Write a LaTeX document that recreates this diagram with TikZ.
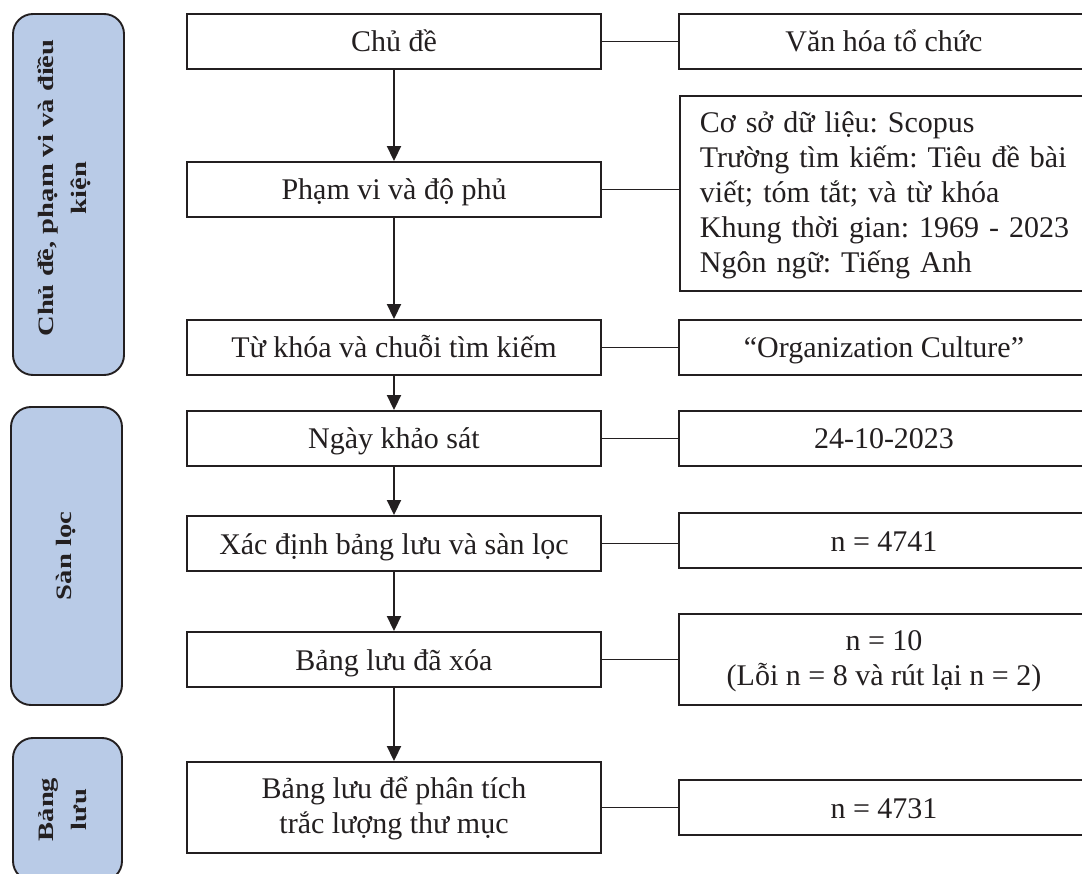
\documentclass[tikz,border=0pt]{standalone}
\usepackage{fontspec}
\setmainfont{Liberation Serif}
\frenchspacing
\usetikzlibrary{arrows.meta}
\definecolor{panelblue}{RGB}{185,203,231}
\definecolor{ink}{RGB}{35,31,32}
\newcommand{\topstrut}{\rule{0pt}{24pt}}
\newcommand{\botstrut}{\rule[-3pt]{0pt}{3pt}}
\begin{document}
\begin{tikzpicture}[x=1pt,y=-1pt,
  box/.style={draw=ink, line width=1.9pt, minimum width=414pt, minimum height=55pt,
    inner sep=0pt, align=center, font=\fontsize{30}{35}\selectfont, text=ink,
    text height=24pt, text depth=3pt},
  multi/.style={text height={}, text depth={}},
  rbox/.style={box, minimum width=410pt},
  panel/.style={draw=ink, line width=1.9pt, fill=panelblue, rounded corners=20pt, inner sep=0pt},
  ptext/.style={rotate=90, text=ink, inner sep=0pt, font=\fontsize{22}{33}\selectfont\bfseries},
  flow/.style={draw=ink, line width=1.9pt, -{Triangle[width=14pt,length=15pt]}},
  link/.style={draw=ink, line width=1.9pt}
]
\useasboundingbox (0,0) rectangle (1082,874);
\clip (0,0) rectangle (1082,874);

% left panels
\node[panel, minimum width=111pt, minimum height=361pt] (p1) at (68.5,194.5) {};
\node[ptext] (p1t) at (63,188) {\scalebox{1.3}[1]{\begin{tabular}{@{}c@{}}Chủ đề, phạm vi và điều\\ kiện\end{tabular}}};
\node[panel, minimum width=111pt, minimum height=298pt] (p2) at (66.5,556) {};
\node[ptext] (p2t) at (66.5,556) {\scalebox{1.3}[1]{Sàn lọc}};
\node[panel, minimum width=109pt, minimum height=143pt] (p3) at (67.5,809.5) {};
\node[ptext] (p3t) at (63,809.5) {\scalebox{1.3}[1]{\begin{tabular}{@{}c@{}}Bảng\\ lưu\end{tabular}}};

% middle column
\node[box] (m1) at (394,41.5) {Chủ đề};
\node[box] (m2) at (394,189.5) {Phạm vi và độ phủ};
\node[box] (m3) at (394,347.5) {Từ khóa và chuỗi tìm kiếm};
\node[box] (m4) at (394,438.5) {Ngày khảo sát};
\node[box] (m5) at (394,543.5) {Xác định bảng lưu và sàn lọc};
\node[box] (m6) at (394,659.5) {Bảng lưu đã xóa};
\node[box, multi, minimum height=91pt] (m7) at (394,807.5) {\topstrut Bảng lưu để phân tích\\trắc lượng thư mục\botstrut};

% right column
\node[rbox] (r1) at (884,41.5) {Văn hóa tổ chức};
\node[rbox, multi, anchor=west, minimum height=195pt, text width=390pt, align=left, inner xsep=20pt] (r2) at (679,193.5)
  {\topstrut Cơ sở dữ liệu: Scopus\\Trường tìm kiếm: Tiêu đề bài\\viết; tóm tắt; và từ khóa\\Khung thời gian: 1969 - 2023\\Ngôn ngữ: Tiếng Anh\botstrut};
\node[rbox] (r3) at (884,347.5) {“Organization Culture”};
\node[rbox] (r4) at (884,438.5) {24-10-2023};
\node[rbox] (r5) at (884,540.5) {n = 4741};
\node[rbox, multi, minimum height=91pt] (r6) at (884,659.5) {\topstrut n = 10\\(Lỗi n = 8 và rút lại n = 2)\botstrut};
\node[rbox] (r7) at (884,807.5) {n = 4731};

% connectors
\foreach \i in {1,...,7} \draw[link] (m\i.east) -- (m\i.east -| r\i.west);
\foreach \i/\j in {1/2,2/3,3/4,4/5,5/6,6/7} \draw[flow] (m\i.south) -- (m\j.north);
\end{tikzpicture}
\end{document}
